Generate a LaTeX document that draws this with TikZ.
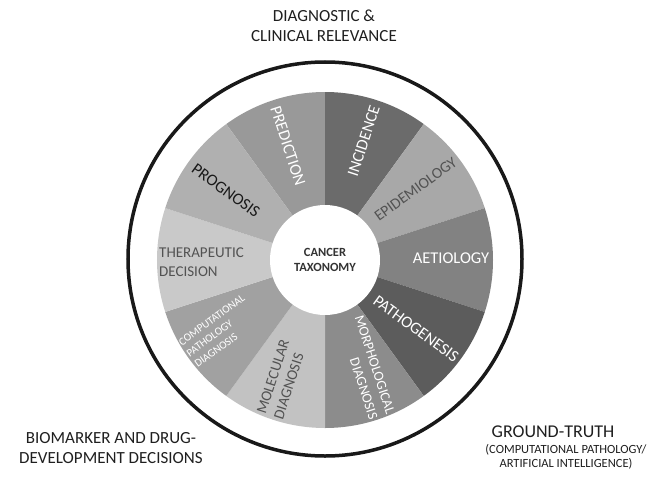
\documentclass[tikz,border=0pt]{standalone}
\usepackage{fontspec}
\setmainfont{Carlito}
\usetikzlibrary{positioning}

\begin{document}
\begin{tikzpicture}[
        x=1pt, y=1pt,
        seglabel/.style={text=white, align=center, inner sep=0pt, font=\fontsize{16.5}{19}\selectfont},
        greylabel/.style={seglabel, text=black!68},
        outerlabel/.style={align=center, inner sep=1pt, text=black!88, font=\fontsize{17}{20}\selectfont},
        ring/.style={line width=3.5pt, draw=black!90}
    ]
    \useasboundingbox (-325,-225) rectangle (338,260);

    % --- Wheel ---
    % 十个扇区，从 PREDICTION 开始顺时针
    \foreach \a/\c in {90/black!40, 54/black!58, 18/black!34, -18/black!49, -54/black!64,
                       -90/black!45, -126/black!24, -162/black!37, 162/black!21, 126/black!31}
        \fill[\c] (0,0) -- (\a:168) arc[start angle=\a, delta angle=36, radius=168] -- cycle;

    % 外圈
    \draw[ring] (0,1) circle[radius=197];

    % --- Nodes ---
    \node[circle, fill=white, minimum size=110pt, align=center, text=black!80,
          font=\bfseries\fontsize{12.5}{15}\selectfont] (taxonomy) at (0,0) {CANCER\\TAXONOMY};

    \node[seglabel, rotate=-72] (prediction) at (108:120) {PREDICTION};
    \node[seglabel, rotate=72] (incidence) at (72:125) {INCIDENCE};
    \node[greylabel, rotate=36, font=\fontsize{15.5}{18}\selectfont] (epidemiology) at (38:115) {EPIDEMIOLOGY};
    \node[seglabel] (aetiology) at (1:126) {AETIOLOGY};
    \node[seglabel, rotate=-36] (pathogenesis) at (-37:114) {PATHOGENESIS};
    \node[seglabel, rotate=-72, align=right, font=\fontsize{14}{18}\selectfont] (morphological) at (-69:115) {MORPHOLOGICAL\\DIAGNOSIS};
    \node[greylabel, rotate=72, align=left, font=\fontsize{15}{18}\selectfont] (molecular) at (250:127) {MOLECULAR\\DIAGNOSIS};
    \node[seglabel, rotate=36, align=left, font=\fontsize{11}{13.5}\selectfont] (computational) at (214:127) {COMPUTATIONAL\\PATHOLOGY\\DIAGNOSIS};
    \node[greylabel, align=left, anchor=west, font=\fontsize{15}{19}\selectfont] (therapeutic) at (-166,-2) {THERAPEUTIC\\DECISION};
    \node[greylabel, text=black!90, rotate=-36] (prognosis) at (145:121) {PROGNOSIS};

    % 外侧的三段说明
    \node[outerlabel] (clinical) at (-1,234.5) {DIAGNOSTIC \&\\CLINICAL RELEVANCE};
    \node[outerlabel] (biomarker) at (-214,-188) {BIOMARKER AND DRUG-\\DEVELOPMENT DECISIONS};
    \node[outerlabel, font=\fontsize{18}{20}\selectfont] (groundtruth) at (228,-172) {GROUND-TRUTH};
    \node[outerlabel, below=4pt of groundtruth, xshift=13pt, font=\fontsize{12.5}{14.5}\selectfont] (aitext)
        {(COMPUTATIONAL PATHOLOGY/\\ARTIFICIAL INTELLIGENCE)};

\end{tikzpicture}
\end{document}
